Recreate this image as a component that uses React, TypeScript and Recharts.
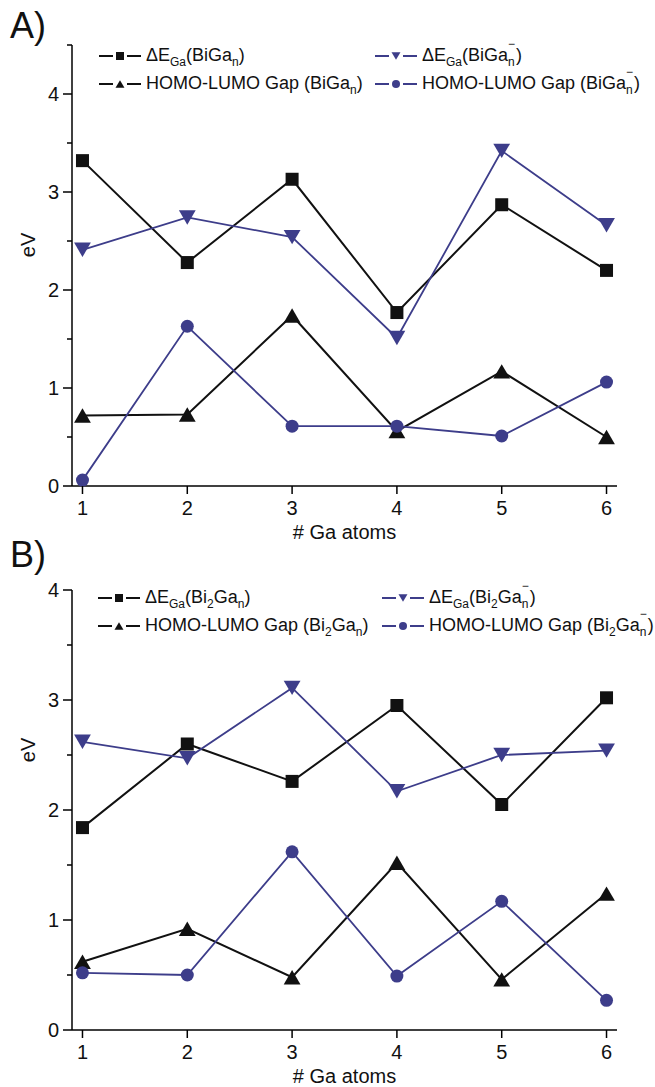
import React from "react";
import { LineChart, Line, XAxis, YAxis, Legend, Label } from "recharts";

// # Ga atoms on the x axis
const gaAtoms = [1, 2, 3, 4, 5, 6];
const xTicks = [1, 2, 3, 4, 5, 6];

// panel A: BiGa_n clusters (eV)
const deBiGa = [3.32, 2.28, 3.13, 1.77, 2.87, 2.2];
const deBiGaAnion = [2.41, 2.74, 2.54, 1.51, 3.42, 2.66];
const gapBiGa = [0.72, 0.73, 1.74, 0.56, 1.17, 0.5];
const gapBiGaAnion = [0.06, 1.63, 0.61, 0.61, 0.51, 1.06];
const yTicksA = [0, 0.5, 1, 1.5, 2, 2.5, 3, 3.5, 4, 4.5];

// panel B: Bi2Ga_n clusters (eV)
const deBi2Ga = [1.84, 2.6, 2.26, 2.95, 2.05, 3.02];
const deBi2GaAnion = [2.62, 2.47, 3.11, 2.17, 2.5, 2.54];
const gapBi2Ga = [0.62, 0.92, 0.48, 1.52, 0.46, 1.24];
const gapBi2GaAnion = [0.52, 0.5, 1.62, 0.49, 1.17, 0.27];
const yTicksB = [0, 0.5, 1, 1.5, 2, 2.5, 3, 3.5, 4];

const BLACK = "#111";
const BLUE = "#3d3d8a";
const FONT = "Liberation Sans, Arial, sans-serif";

type Shape = "square" | "up" | "down" | "circle";

function marker(shape: Shape, cx: number, cy: number, s: number, color: string, key?: string) {
  if (cx == null || cy == null) return <g key={key} />;
  if (shape === "square")
    return <rect key={key} x={cx - s / 2} y={cy - s / 2} width={s} height={s} fill={color} />;
  if (shape === "circle") return <circle key={key} cx={cx} cy={cy} r={s / 2} fill={color} />;
  const w = s * 0.56;
  const h = s * 0.48;
  const pts =
    shape === "up"
      ? `${cx},${cy - h} ${cx + w},${cy + h} ${cx - w},${cy + h}`
      : `${cx},${cy + h} ${cx + w},${cy - h} ${cx - w},${cy - h}`;
  return <polygon key={key} points={pts} fill={color} />;
}

const Sub = ({ children }: { children: React.ReactNode }) => (
  <span style={{ fontSize: 12, position: "relative", top: 5 }}>{children}</span>
);

const SubSup = () => (
  <span style={{ display: "inline-block", position: "relative", width: 8, fontSize: 12 }}>
    <span style={{ position: "absolute", left: 0, top: -13 }}>−</span>
    <span style={{ position: "relative", top: 5 }}>n</span>
  </span>
);

function formula(bi2: boolean, anion: boolean) {
  return (
    <>
      Bi{bi2 && <Sub>2</Sub>}Ga{anion ? <SubSup /> : <Sub>n</Sub>}
    </>
  );
}

type Series = { key: string; shape: Shape; color: string; label: React.ReactNode };

function makeSeries(bi2: boolean): Series[] {
  return [
    {
      key: "de",
      shape: "square",
      color: BLACK,
      label: (
        <>
          ΔE<Sub>Ga</Sub>({formula(bi2, false)})
        </>
      ),
    },
    {
      key: "deAn",
      shape: "down",
      color: BLUE,
      label: (
        <>
          ΔE<Sub>Ga</Sub>({formula(bi2, true)})
        </>
      ),
    },
    { key: "gap", shape: "up", color: BLACK, label: <>HOMO-LUMO Gap ({formula(bi2, false)})</> },
    { key: "gapAn", shape: "circle", color: BLUE, label: <>HOMO-LUMO Gap ({formula(bi2, true)})</> },
  ];
}

const dataA = gaAtoms.map((n, i) => ({
  n,
  de: deBiGa[i],
  deAn: deBiGaAnion[i],
  gap: gapBiGa[i],
  gapAn: gapBiGaAnion[i],
}));

const dataB = gaAtoms.map((n, i) => ({
  n,
  de: deBi2Ga[i],
  deAn: deBi2GaAnion[i],
  gap: gapBi2Ga[i],
  gapAn: gapBi2GaAnion[i],
}));

const YTick = (props: any) => {
  const { x, y, payload } = props;
  const major = Number.isInteger(payload.value);
  return (
    <g>
      <line x1={x - (major ? 9 : 5)} x2={x} y1={y} y2={y} stroke="#000" strokeWidth={1.5} />
      {major && (
        <text x={x - 13} y={y} dy="0.36em" textAnchor="end" fontSize={20} fontFamily={FONT} fill="#111">
          {payload.value}
        </text>
      )}
    </g>
  );
};

const XTick = (props: any) => {
  const { x, y, payload } = props;
  return (
    <g>
      <line x1={x} x2={x} y1={y} y2={y + 8} stroke="#000" strokeWidth={1.5} />
      <text x={x} y={y + 29} textAnchor="middle" fontSize={20} fontFamily={FONT} fill="#111">
        {payload.value}
      </text>
    </g>
  );
};

type PanelProps = {
  title: string;
  data: any[];
  bi2: boolean;
  height: number;
  top: number;
  bottom: number;
  yMax: number;
  yTicks: number[];
  legendTop: number;
  legendCols: number[];
  evY: number;
};

function Panel({ title, data, bi2, height, top, bottom, yMax, yTicks, legendTop, legendCols, evY }: PanelProps) {
  const series = makeSeries(bi2);
  const renderLegend = () => (
    <div style={{ position: "relative", width: 655, height: 60, fontFamily: FONT, fontSize: 18, color: "#111" }}>
      {series.map((s, i) => (
        <div
          key={s.key}
          style={{
            position: "absolute",
            left: legendCols[i % 2],
            top: Math.floor(i / 2) * 28,
            display: "flex",
            alignItems: "center",
            whiteSpace: "nowrap",
            lineHeight: "20px",
          }}
        >
          <svg width={42} height={20}>
            <line x1={0} x2={42} y1={10} y2={10} stroke={s.color} strokeWidth={2} />
            <rect x={14} y={3} width={14} height={14} fill="#fff" />
            {marker(s.shape, 21, 10, 8, s.color)}
          </svg>
          <span style={{ marginLeft: 5 }}>{s.label}</span>
        </div>
      ))}
    </div>
  );

  return (
    <div style={{ position: "absolute", left: 0, top, width: 655, height }}>
      <div
        style={{
          position: "absolute",
          left: 10,
          top: top === 0 ? 6 : -10,
          fontFamily: FONT,
          fontSize: 36,
          color: "#111",
          lineHeight: "40px",
        }}
      >
        {title}
      </div>
      <LineChart width={655} height={height} data={data} margin={{ top: 45, right: 38, left: 0, bottom }}>
        <XAxis
          dataKey="n"
          type="number"
          domain={[0.9, 6.1]}
          ticks={xTicks}
          tick={<XTick />}
          tickLine={false}
          tickSize={0}
          tickMargin={0}
          height={55}
          axisLine={{ stroke: "#000", strokeWidth: 1.5 }}
          allowDataOverflow
        >
          <Label
            content={(p: any) => {
              const vb = p.viewBox;
              return (
                <text
                  x={vb.x + vb.width / 2}
                  y={vb.y + 53}
                  textAnchor="middle"
                  fontSize={20}
                  fontFamily={FONT}
                  fill="#111"
                >
                  # Ga atoms
                </text>
              );
            }}
          />
        </XAxis>
        <YAxis
          type="number"
          domain={[0, yMax]}
          ticks={yTicks}
          tick={<YTick />}
          tickLine={false}
          tickSize={0}
          tickMargin={0}
          width={72}
          axisLine={{ stroke: "#000", strokeWidth: 1.5 }}
          interval={0}
        >
          <Label
            content={(p: any) => {
              const vb = p.viewBox;
              const cx = 28;
              const cy = vb.y + evY;
              return (
                <text
                  x={cx}
                  y={cy}
                  transform={`rotate(-90 ${cx} ${cy})`}
                  textAnchor="middle"
                  dy="0.36em"
                  fontSize={20}
                  fontFamily={FONT}
                  fill="#111"
                >
                  eV
                </text>
              );
            }}
          />
        </YAxis>
        <Legend
          content={renderLegend}
          layout="horizontal"
          verticalAlign="middle"
          align="center"
          wrapperStyle={{ top: legendTop, left: 0, width: 655 }}
        />
        {series.map((s) => (
          <Line
            key={s.key}
            dataKey={s.key}
            stroke={s.color}
            strokeWidth={s.color === BLUE ? 1.8 : 2}
            isAnimationActive={false}
            dot={(p: any) =>
              marker(s.shape, p.cx, p.cy, s.shape === "square" ? 13 : s.shape === "circle" ? 13 : 15, s.color, `${s.key}-${p.index}`)
            }
            activeDot={false}
          />
        ))}
      </LineChart>
    </div>
  );
}

export default function App() {
  return (
    <div style={{ position: "absolute", left: 0, top: 0, width: 655, height: 1087, background: "#fff" }}>
      <Panel
        title="A)"
        data={dataA}
        bi2={false}
        height={545}
        top={0}
        bottom={4}
        yMax={4.5}
        yTicks={yTicksA}
        legendTop={45}
        legendCols={[99, 375]}
        evY={200}
      />
      <Panel
        title="B)"
        data={dataB}
        bi2={true}
        height={542}
        top={545}
        bottom={2}
        yMax={4}
        yTicks={yTicksB}
        legendTop={42}
        legendCols={[98, 382]}
        evY={160}
      />
    </div>
  );
}
